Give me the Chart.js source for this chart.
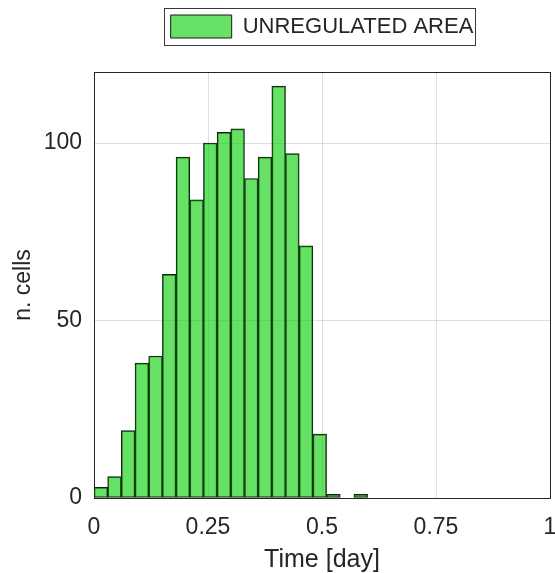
<!DOCTYPE html>
<html lang="en">
<head>
  <meta charset="UTF-8" />
  <title>Unregulated area histogram</title>
  <script src="https://cdn.jsdelivr.net/npm/chart.js"></script>
  <style>
    body { margin: 0; background: #fff; }
    #wrap { width: 555px; height: 573px; }
  </style>
</head>
<body>
  <div id="wrap"><canvas id="histChart"></canvas></div>

  <script>
  // Histogram bins (bin centres, width 0.03 day) and counts
  const binCenters = [0.015, 0.045, 0.075, 0.105, 0.135, 0.165, 0.195, 0.225, 0.255, 0.285,
                      0.315, 0.345, 0.375, 0.405, 0.435, 0.465, 0.495, 0.525, 0.555, 0.585];
  const cellCounts = [3, 6, 19, 38, 40, 63, 96, 84, 100, 103,
                      104, 90, 96, 116, 97, 71, 18, 1, 0, 1];
  const seriesLabel = 'UNREGULATED AREA';
  const xTicks = [0, 0.25, 0.5, 0.75, 1];
  const yTicks = [0, 50, 100];

  const textColor = '#262626';
  const gridColor = 'rgba(38,38,38,0.15)';
  const fontFamily = "'Liberation Sans', Arial, Helvetica, sans-serif";

  // box round the legend, like matlab
  const legendFrame = {
    id: 'legendFrame',
    afterDraw(chart) {
      const hb = chart.legend && chart.legend.legendHitBoxes && chart.legend.legendHitBoxes[0];
      if (!hb) return;
      const ctx = chart.ctx;
      ctx.save();
      ctx.strokeStyle = '#3a3a3a';
      ctx.lineWidth = 1;
      ctx.strokeRect(Math.round(hb.left - 7) + 0.5, Math.round(hb.top - 7) + 0.5,
                     Math.round(hb.width + 8), Math.round(hb.height + 14));
      ctx.restore();
    }
  };

  const ctx = document.getElementById('histChart').getContext('2d');
  new Chart(ctx, {
    type: 'bar',
    data: {
      datasets: [{
        label: seriesLabel,
        data: binCenters.map((x, i) => ({ x: x, y: cellCounts[i] })),
        backgroundColor: 'rgba(0,205,0,0.6)',
        borderColor: '#1a1a1a',
        borderWidth: 1,
        borderSkipped: false,
        barPercentage: 1,
        categoryPercentage: 1
      }]
    },
    options: {
      responsive: true,
      maintainAspectRatio: false,
      animation: false,
      layout: { padding: 0 },
      plugins: {
        tooltip: { enabled: false },
        legend: {
          display: true,
          position: 'top',
          fullSize: false,
          labels: {
            color: textColor,
            font: { family: fontFamily, size: 22 },
            boxWidth: 61,
            boxHeight: 23,
            padding: 15
          }
        }
      },
      scales: {
        x: {
          type: 'linear',
          min: 0,
          max: 1,
          offset: false,
          grid: { color: gridColor, drawTicks: false, offset: false },
          border: { display: true, color: textColor, width: 1 },
          afterBuildTicks: (scale) => { scale.ticks = xTicks.map(v => ({ value: v })); },
          // fixed height, end labels may hang over the edge like the original
          afterFit: (scale) => { scale.height = 75; scale.paddingLeft = 0; scale.paddingRight = 0; },
          ticks: {
            color: textColor,
            font: { family: fontFamily, size: 23 },
            padding: 16,
            maxRotation: 0,
            callback: (v) => String(v)
          },
          title: {
            display: true,
            text: 'Time [day]',
            color: textColor,
            font: { family: fontFamily, size: 25 },
            padding: { top: 0, bottom: -2 }
          }
        },
        x2: {
          type: 'linear',
          position: 'top',
          min: 0,
          max: 1,
          grid: { display: false },
          ticks: { display: false },
          border: { display: true, color: textColor, width: 1 },
          afterFit: (scale) => { scale.height = 24; }
        },
        y: {
          type: 'linear',
          min: 0,
          max: 120,
          grid: { color: gridColor, drawTicks: false },
          border: { display: true, color: textColor, width: 1 },
          afterBuildTicks: (scale) => { scale.ticks = yTicks.map(v => ({ value: v })); },
          afterFit: (scale) => { scale.width = 94; scale.paddingTop = 0; scale.paddingBottom = 0; },
          ticks: {
            color: textColor,
            font: { family: fontFamily, size: 23 },
            padding: 12
          },
          title: {
            display: true,
            text: 'n. cells',
            color: textColor,
            font: { family: fontFamily, size: 23 },
            padding: { top: 10, bottom: 0 }
          }
        },
        y2: {
          type: 'linear',
          position: 'right',
          min: 0,
          max: 120,
          grid: { display: false },
          ticks: { display: false },
          border: { display: true, color: textColor, width: 1 },
          afterFit: (scale) => { scale.width = 5; }
        }
      }
    },
    plugins: [legendFrame]
  });
  </script>
</body>
</html>
